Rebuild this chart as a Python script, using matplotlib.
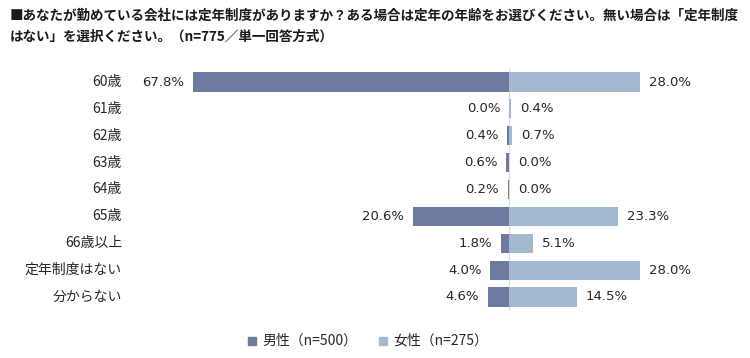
import matplotlib.pyplot as plt
import numpy as np

plt.rcParams['font.family'] = ['Noto Sans CJK JP', 'DejaVu Sans']

# データ
categories = ['60歳', '61歳', '62歳', '63歳', '64歳', '65歳', '66歳以上', '定年制度はない', '分からない']
male = [67.8, 0.0, 0.4, 0.6, 0.2, 20.6, 1.8, 4.0, 4.6]
female = [28.0, 0.4, 0.7, 0.0, 0.0, 23.3, 5.1, 28.0, 14.5]
male_label = '男性（n=500）'
female_label = '女性（n=275）'
title = ('■あなたが勤めている会社には定年制度がありますか？ある場合は定年の年齢をお選びください。無い場合は「定年制度\n'
         'はない」を選択ください。（n=775／単一回答方式）')

c_male = '#6f7aa1'
c_female = '#a3b9d0'

fig = plt.figure(figsize=(7.5, 3.58), dpi=100)
W, H = 750, 358
# axes placed in pixel coordinates
left, right = 130, 720
top, bottom = 68.6, 310.4
ax = fig.add_axes([left / W, 1 - bottom / H, (right - left) / W, (bottom - top) / H])

y = np.arange(len(categories))
ax.barh(y, [-v for v in male], height=0.71, color=c_male)
ax.barh(y, female, height=0.71, color=c_female)
ax.axvline(0, color='#d9d9d9', linewidth=0.8, zorder=0)

ax.set_xlim(-81.2, 45.2)
ax.set_ylim(len(categories) - 0.5, -0.5)

pad = 1.9  # in data units (~9px)
for i in range(len(categories)):
    ax.text(-male[i] - pad, y[i], f'{male[i]:.1f}%', ha='right', va='center',
            fontsize=9.5, color='#262626', family='DejaVu Sans')
    ax.text(female[i] + pad, y[i], f'{female[i]:.1f}%', ha='left', va='center',
            fontsize=9.5, color='#262626', family='DejaVu Sans')
    fig.text(122 / W, 1 - (82 + i * 26.875) / H, categories[i], ha='right', va='center',
             fontsize=10, color='#262626')

ax.axis('off')

fig.text(10 / W, 1 - 26 / H, title, ha='left', va='center', fontsize=9.75,
         fontweight='bold', color='#1a1a1a', linespacing=1.6)

# 凡例
fig.patches.append(plt.Rectangle((248 / W, 1 - 345 / H), 8 / W, 8 / H,
                                 transform=fig.transFigure, color=c_male))
fig.text(262 / W, 1 - 341 / H, male_label, ha='left', va='center', fontsize=10, color='#262626')
fig.patches.append(plt.Rectangle((379 / W, 1 - 345 / H), 8 / W, 8 / H,
                                 transform=fig.transFigure, color=c_female))
fig.text(393 / W, 1 - 341 / H, female_label, ha='left', va='center', fontsize=10, color='#262626')

plt.savefig('out.png', dpi=100)
